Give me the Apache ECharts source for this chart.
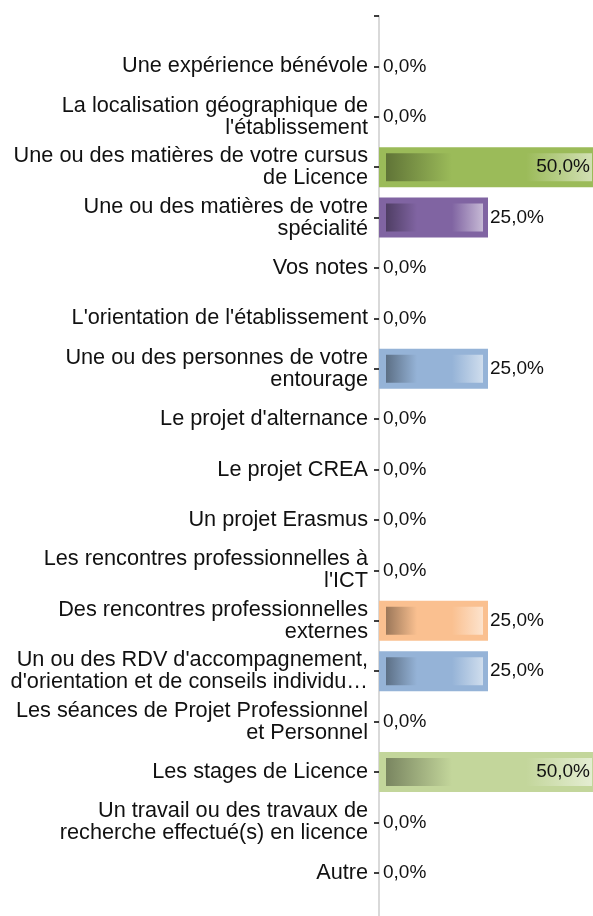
<!DOCTYPE html>
<html><head><meta charset="utf-8">
<script src="https://cdn.jsdelivr.net/npm/echarts@6/dist/echarts.min.js"></script>
<style>html,body{margin:0;padding:0;background:#fff}#chart{width:593px;height:916px}</style>
</head><body><div id="chart"></div>
<script>
// ---- data ----
const categories = [
  "Une expérience bénévole",
  "La localisation géographique de\nl'établissement",
  "Une ou des matières de votre cursus\nde Licence",
  "Une ou des matières de votre\nspécialité",
  "Vos notes",
  "L'orientation de l'établissement",
  "Une ou des personnes de votre\nentourage",
  "Le projet d'alternance",
  "Le projet CREA",
  "Un projet Erasmus",
  "Les rencontres professionnelles à\nl'ICT",
  "Des rencontres professionnelles\nexternes",
  "Un ou des RDV d'accompagnement,\nd'orientation et de conseils individu…",
  "Les séances de Projet Professionnel\net Personnel",
  "Les stages de Licence",
  "Un travail ou des travaux de\nrecherche effectué(s) en licence",
  "Autre"
];
const values = [0, 0, 50, 25, 0, 0, 25, 0, 0, 0, 0, 25, 25, 0, 50, 0, 0];

// ---- styles ----
const pointColors = [
  "#4F81BD", "#C0504D", "#9BBB59", "#8064A2", "#4BACC6", "#F79646",
  "#95B3D7", "#D99694", "#C3D69B", "#B3A2C7", "#93CDDD", "#FAC090",
  "#95B3D7", "#D99694", "#C3D69B", "#B3A2C7", "#93CDDD"
];
const AXIS_MAX = 50;
const GRID_LEFT = 379, GRID_TOP = 16, GRID_WIDTH = 218, STEP = 50.4;
const PX_PER_UNIT = GRID_WIDTH / AXIS_MAX;
const FONT = "'Liberation Sans', Arial, sans-serif";

function rgb(hex) { const n = parseInt(hex.slice(1), 16); return [(n >> 16) & 255, (n >> 8) & 255, n & 255]; }
function toHex(c) { return '#' + c.map(v => Math.max(0, Math.min(255, Math.round(v))).toString(16).padStart(2, '0')).join(''); }
function darken(hex, f) { return toHex(rgb(hex).map(v => v * f)); }
function lighten(hex, f) { return toHex(rgb(hex).map(v => v + (255 - v) * f)); }

function innerGradient(base, v) {
  const L = v * PX_PER_UNIT;
  if (L < 14) return base;
  const a = 7 / L, b = 1 - 5 / L, w = b - a;
  const dark = darken(base, 0.62), light = lighten(base, 0.55);
  return new echarts.graphic.LinearGradient(0, 0, 1, 0, [
    { offset: 0, color: base }, { offset: a, color: base },
    { offset: a, color: dark },
    { offset: a + w * 0.32, color: base },
    { offset: a + w * 0.68, color: base },
    { offset: b, color: light },
    { offset: b, color: base }, { offset: 1, color: base }
  ]);
}
function fmt(v) { return v.toFixed(1).replace('.', ',') + '%'; }

const axisData = [''].concat(categories, ['']);
const outerData = [null].concat(values.map((v, i) => ({ value: v, itemStyle: { color: pointColors[i] } })), [null]);
const innerData = [null].concat(values.map((v, i) => ({
  value: v,
  itemStyle: { color: innerGradient(pointColors[i], v) },
  label: v >= AXIS_MAX ? { position: 'insideRight', distance: 7 } : { position: 'right', distance: v > 0 ? 2 : 4 }
})), [null]);

const catAxisBase = {
  type: 'category', inverse: true, boundaryGap: false, data: axisData
};

const chart = echarts.init(document.getElementById('chart'), null, { renderer: 'canvas' });
chart.setOption({
  backgroundColor: '#fff',
  animation: false,
  grid: { left: GRID_LEFT, top: GRID_TOP, width: GRID_WIDTH, height: STEP * (axisData.length - 1), containLabel: false, outerBoundsMode: 'none' },
  xAxis: { type: 'value', min: 0, max: AXIS_MAX, show: false },
  yAxis: [
    Object.assign({}, catAxisBase, {
      axisLine: { show: true, lineStyle: { color: '#d9d9d9', width: 2 } },
      axisTick: { show: true, length: 5, lineStyle: { color: '#000', width: 1.5 } },
      axisLabel: { interval: 0, fontSize: 21.7, lineHeight: 22, color: '#111', fontFamily: FONT, margin: 11, align: 'right' },
      splitLine: { show: false }
    }),
    Object.assign({}, catAxisBase, { show: false, position: 'left' })
  ],
  series: [
    { type: 'bar', yAxisIndex: 0, barWidth: 40, data: outerData, label: { show: false } },
    {
      type: 'bar', yAxisIndex: 1, barWidth: 28, data: innerData,
      label: { show: true, color: '#111', fontSize: 19, fontFamily: FONT, formatter: p => fmt(p.value) }
    }
  ]
});
</script></body></html>
